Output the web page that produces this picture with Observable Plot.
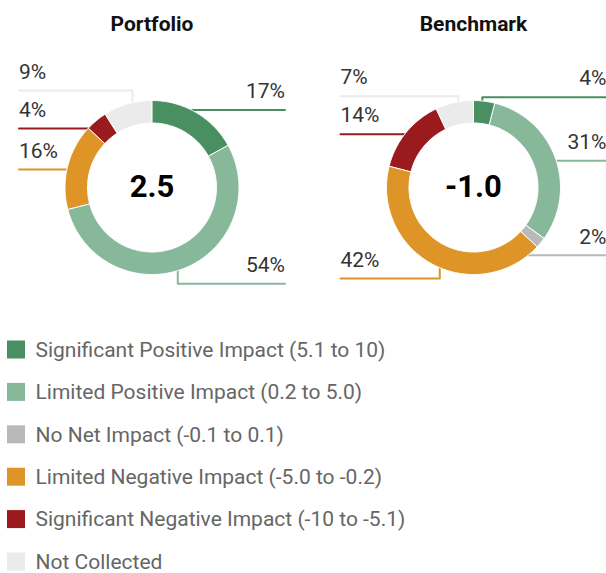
<!DOCTYPE html>
<html><head><meta charset="utf-8">
<script src="https://cdn.jsdelivr.net/npm/d3@7"></script>
<script src="https://cdn.jsdelivr.net/npm/@observablehq/plot@0.6"></script>
<style>body{margin:0;background:#fff;}</style>
</head><body><div id="chart"></div>
<script>
const categories = [
  "Significant Positive Impact (5.1 to 10)",
  "Limited Positive Impact (0.2 to 5.0)",
  "No Net Impact (-0.1 to 0.1)",
  "Limited Negative Impact (-5.0 to -0.2)",
  "Significant Negative Impact (-10 to -5.1)",
  "Not Collected"
];
const categoryColors = ["#4a8f62", "#87b89a", "#b9b9b9", "#de9427", "#9b1a1e", "#ebebec"];
const panels = ["Portfolio", "Benchmark"];
const scores = [2.5, -1.0];
const portfolioShares = [17, 54, 0, 16, 4, 9];
const benchmarkShares = [4, 31, 2, 42, 14, 7];

const W = 606, H = 573;
const centersX = [151.5, 473];
const cy = 187, rOuter = 87, rInner = 64.5, rAnchor = 70, rLabel = 97, half = 133, gap = 38;

function resolve(list) {
  list.sort((a, b) => a.y0 - b.y0);
  let clusters = list.map(d => ({items: [d], top: d.y0}));
  let merged = true;
  while (merged) {
    merged = false;
    for (let i = 0; i < clusters.length - 1; i++) {
      const A = clusters[i], B = clusters[i + 1];
      const aBottom = A.top + (A.items.length - 1) * gap;
      if (B.top - aBottom < gap) {
        const items = A.items.concat(B.items);
        const mean = d3.mean(items, d => d.y0);
        clusters.splice(i, 2, {items, top: mean - (items.length - 1) * gap / 2});
        merged = true; break;
      }
    }
  }
  clusters.forEach(c => c.items.forEach((d, k) => d.y = c.top + k * gap));
}

const arcPts = [], leaders = [], labelsL = [], labelsR = [], titles = [], centers = [];
panels.forEach((panel, p) => {
  const shares = p === 0 ? portfolioShares : benchmarkShares;
  const total = d3.sum(shares);
  const cx = centersX[p];
  titles.push({x: cx, y: 24, text: panel});
  centers.push({x: cx, y: cy, text: scores[p].toFixed(1)});
  let cum = 0;
  const items = [];
  shares.forEach((s, i) => {
    const a0 = cum / total * 2 * Math.PI;
    cum += s;
    if (s <= 0) return;
    const a1 = cum / total * 2 * Math.PI;
    const id = panel + i, cat = categories[i];
    const n = Math.max(2, Math.ceil((a1 - a0) / (Math.PI / 180)));
    for (let k = 0; k <= n; k++) {
      const a = a0 + (a1 - a0) * k / n;
      arcPts.push({id, cat, x: cx + rOuter * Math.sin(a), y: cy - rOuter * Math.cos(a)});
    }
    for (let k = n; k >= 0; k--) {
      const a = a0 + (a1 - a0) * k / n;
      arcPts.push({id, cat, x: cx + rInner * Math.sin(a), y: cy - rInner * Math.cos(a)});
    }
    const mid = (a0 + a1) / 2;
    items.push({id, cat, s, mid, side: Math.sin(mid) >= 0 ? 1 : -1, y0: cy + 6 - rLabel * Math.cos(mid)});
  });
  resolve(items.filter(d => d.side > 0));
  resolve(items.filter(d => d.side < 0));
  items.forEach(d => {
    const ex = cx + d.side * half;
    const ax = cx + rAnchor * Math.sin(d.mid), ay = cy - rAnchor * Math.cos(d.mid);
    leaders.push({id: d.id, cat: d.cat, x: ex, y: d.y}, {id: d.id, cat: d.cat, x: ax, y: d.y}, {id: d.id, cat: d.cat, x: ax, y: ay});
    (d.side > 0 ? labelsR : labelsL).push({x: ex, y: d.y - 18.5, text: d.s + "%"});
  });
});

const legend = categories.map((cat, i) => ({cat, y: 349.5 + i * 42.4}));

const chart = Plot.plot({
  width: W, height: H, margin: 0,
  x: {domain: [0, W], range: [0, W], axis: null},
  y: {domain: [0, H], range: [0, H], axis: null},
  color: {domain: categories, range: categoryColors},
  style: {fontFamily: "Roboto, sans-serif", background: "#fff"},
  marks: [
    Plot.line(leaders, {x: "x", y: "y", z: "id", stroke: "cat", strokeWidth: 2}),
    Plot.line(arcPts, {x: "x", y: "y", z: "id", fill: "cat", stroke: "white", strokeWidth: 1, curve: "linear-closed"}),
    Plot.text(labelsR, {x: "x", y: "y", text: "text", textAnchor: "end", fontSize: 21, fill: "#333"}),
    Plot.text(labelsL, {x: "x", y: "y", text: "text", textAnchor: "start", fontSize: 21, fill: "#333"}),
    Plot.text(titles, {x: "x", y: "y", text: "text", fontSize: 21, fontWeight: "bold", fill: "#111"}),
    Plot.text(centers, {x: "x", y: "y", text: "text", fontSize: 31, fontWeight: "bold", fill: "#000"}),
    Plot.rect(legend, {x1: 7, x2: 25, y1: d => d.y - 9, y2: d => d.y + 9, fill: "cat"}),
    Plot.text(legend, {x: 35, y: "y", text: "cat", textAnchor: "start", fontSize: 21, fill: "#666"})
  ]
});
document.getElementById("chart").appendChild(chart);
</script>
</body></html>
